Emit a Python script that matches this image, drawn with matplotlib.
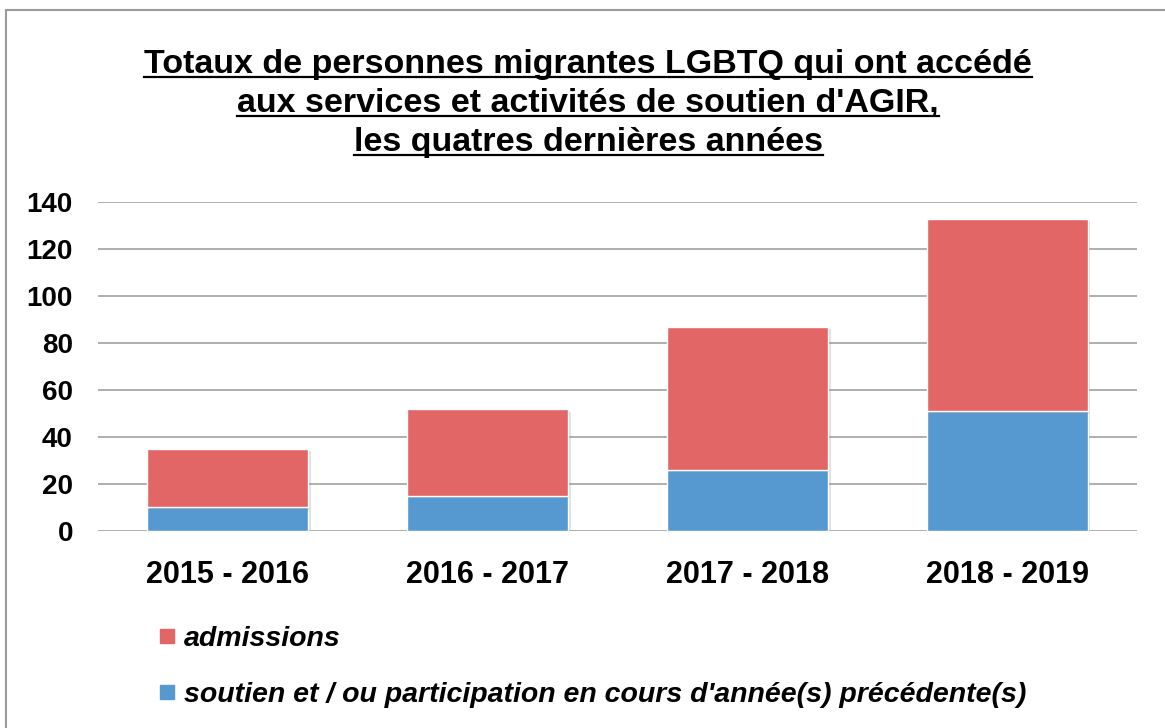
import numpy as np
import matplotlib.pyplot as plt
from matplotlib.lines import Line2D
from matplotlib.patches import Rectangle
import matplotlib.patheffects as pe

plt.rcParams['font.family'] = ['Liberation Sans', 'DejaVu Sans']

# Data
periodes = ['2015 - 2016', '2016 - 2017', '2017 - 2018', '2018 - 2019']
soutien = [10, 15, 26, 51]
admissions = [25, 37, 61, 82]

RED = '#E26665'
BLUE = '#5699D0'

fig = plt.figure(figsize=(11.65, 7.28), dpi=100)
W, H = 1165, 728

# outer frame of the screenshot
fig.patches.append(Rectangle((6 / W, -0.05), 1.2, 1 - 10 / H + 0.05,
                             transform=fig.transFigure, fill=False,
                             edgecolor='#9a9a9a', lw=1.5))

ax = fig.add_axes([98 / W, 1 - 530.7 / H, (1137 - 98) / W, (530.7 - 202.3) / H])

x = np.arange(len(periodes))
shadow = [pe.SimplePatchShadow(offset=(2, -2), shadow_rgbFace='#888888', alpha=0.25), pe.Normal()]
b1 = ax.bar(x, soutien, width=0.62, color=BLUE, edgecolor='white', lw=1, zorder=3)
b2 = ax.bar(x, admissions, bottom=soutien, width=0.62, color=RED, edgecolor='white', lw=1, zorder=3)
for b in list(b1) + list(b2):
    b.set_path_effects(shadow)

ax.set_xlim(-0.5, 3.5)
ax.set_ylim(0, 140)
ax.set_yticks(range(0, 141, 20))
ax.set_xticks(x)
ax.set_xticklabels(periodes, fontsize=22, fontweight='bold')
for lab in ax.get_yticklabels():
    lab.set_fontsize(20)
    lab.set_fontweight('bold')
ax.tick_params(length=0)
ax.tick_params(axis='y', pad=18)
ax.tick_params(axis='x', pad=21)
ax.grid(axis='y', color='#a8a8a8', lw=1.3, zorder=0)
for s in ax.spines.values():
    s.set_visible(False)

# Title, underlined line by line
title_lines = ["Totaux de personnes migrantes LGBTQ qui ont accédé",
               "aux services et activités de soutien d'AGIR,",
               "les quatres dernières années"]
baselines = [73, 112, 151]
texts = []
for line, yb in zip(title_lines, baselines):
    t = fig.text(588 / W, 1 - yb / H, line, ha='center', va='baseline',
                 fontsize=24.5, fontweight='bold')
    texts.append((t, yb))
fig.canvas.draw()
r = fig.canvas.get_renderer()
for t, yb in texts:
    bb = t.get_window_extent(r)
    y = 1 - (yb + 4) / H
    fig.add_artist(Line2D([bb.x0 / W, bb.x1 / W], [y, y], transform=fig.transFigure,
                          color='black', lw=1.6))

# Legend
handles = [Line2D([], [], marker='s', ls='none', color=RED, markersize=10),
           Line2D([], [], marker='s', ls='none', color=BLUE, markersize=10)]
labels = ['admissions', "soutien et / ou participation en cours d'année(s) précédente(s)"]
fig.legend(handles, labels, loc='upper left', bbox_to_anchor=(133 / W, 1 - 600 / H),
           frameon=False, handlelength=0.6, handletextpad=0.3, labelspacing=1.05,
           prop={'size': 20.5, 'weight': 'bold', 'style': 'italic'})

fig.savefig('out.png', dpi=100)
